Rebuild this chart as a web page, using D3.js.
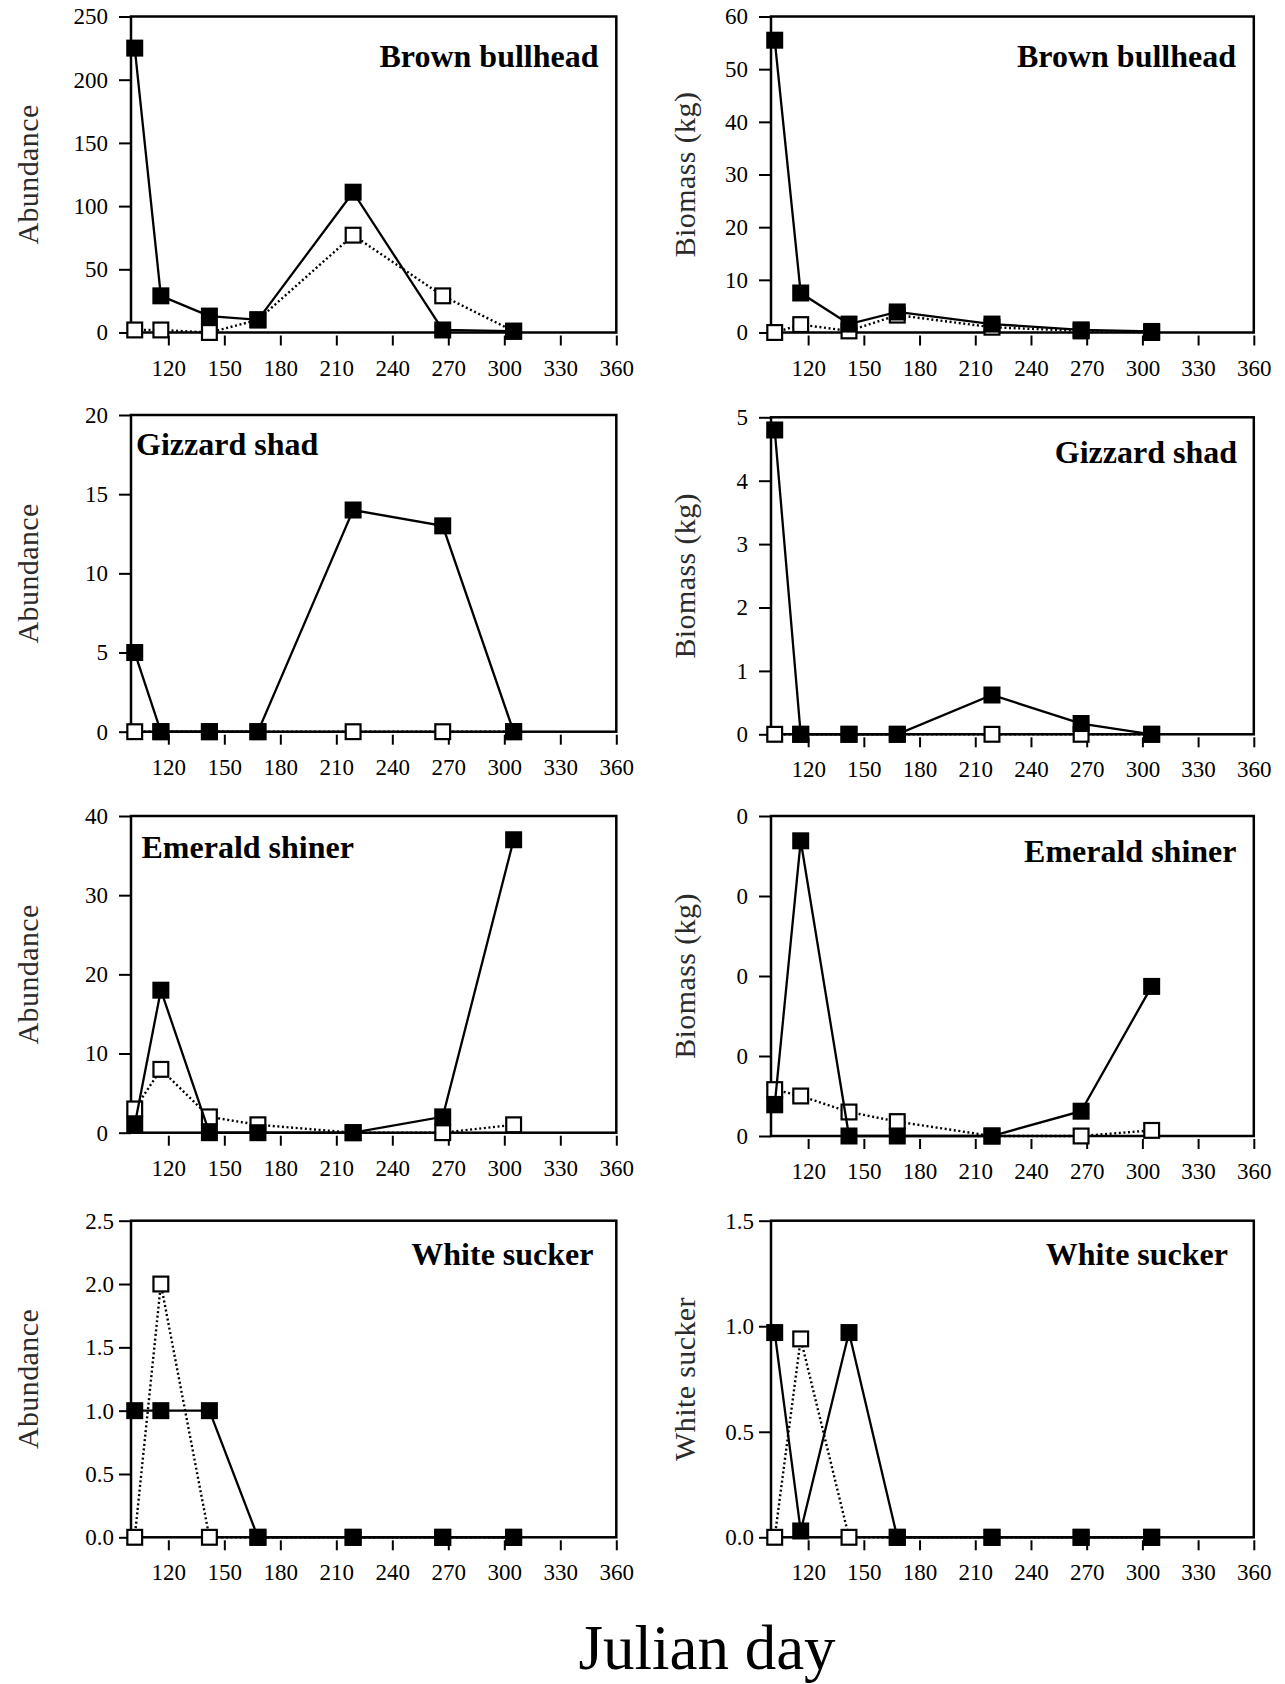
<!DOCTYPE html>
<html>
<head>
<meta charset="utf-8">
<script src="https://cdn.jsdelivr.net/npm/d3@7/dist/d3.min.js"></script>
<style>
  body { margin: 0; background: #fff; }
  svg { display: block; }
</style>
</head>
<body>
<svg id="chart" width="1285" height="1684"></svg>
<script>
// Sampling dates (Julian day) shared by every panel
const days = [102, 116, 142, 168, 219, 267, 305];
const dayTicks = [120, 150, 180, 210, 240, 270, 300, 330, 360];

// Brown bullhead
const bullheadAbundanceFilled = [225, 29, 13, 10, 111, 2, 1];
const bullheadAbundanceOpen   = [2, 2, 0, 10, 77, 29, 1];
const bullheadBiomassFilled   = [55.5, 7.5, 1.6, 3.9, 1.6, 0.5, 0.2];
const bullheadBiomassOpen     = [0, 1.5, 0.3, 3.3, 1.0, 0.3, 0];

// Gizzard shad
const shadAbundanceFilled = [5, 0, 0, 0, 14, 13, 0];
const shadAbundanceOpen   = [0, 0, 0, 0, 0, 0, 0];
const shadBiomassFilled   = [4.8, 0, 0, 0, 0.62, 0.17, 0];
const shadBiomassOpen     = [0, 0, 0, 0, 0, 0, 0];

// Emerald shiner
const shinerAbundanceFilled = [1, 18, 0, 0, 0, 2, 37];
const shinerAbundanceOpen   = [3, 8, 2, 1, 0, 0, 1];
const shinerBiomassFilled   = [0.039, 0.369, 0, 0, 0, 0.031, 0.187];
const shinerBiomassOpen     = [0.058, 0.050, 0.030, 0.018, 0, 0, 0.007];

// White sucker
const suckerAbundanceFilled = [1, 1, 1, 0, 0, 0, 0];
const suckerAbundanceOpen   = [0, 2, 0, 0, 0, 0, 0];
const suckerBiomassFilled   = [0.97, 0.03, 0.97, 0, 0, 0, 0];
const suckerBiomassOpen     = [0, 0.94, 0, 0, 0, 0, 0];

// Y tick values and axis titles
const bullheadAbundanceTicks = [0, 50, 100, 150, 200, 250];
const bullheadBiomassTicks   = [0, 10, 20, 30, 40, 50, 60];
const shadAbundanceTicks     = [0, 5, 10, 15, 20];
const shadBiomassTicks       = [0, 1, 2, 3, 4, 5];
const shinerAbundanceTicks   = [0, 10, 20, 30, 40];
const shinerBiomassTicks     = [0, 0.1, 0.2, 0.3, 0.4];
const suckerAbundanceTicks   = [0, 0.5, 1.0, 1.5, 2.0, 2.5];
const suckerBiomassTicks     = [0, 0.5, 1.0, 1.5];

const speciesNames = ["Brown bullhead", "Gizzard shad", "Emerald shiner", "White sucker"];
const yTitles = ["Abundance", "Biomass (kg)", "Abundance", "Biomass (kg)",
                 "Abundance", "Biomass (kg)", "Abundance", "White sucker"];

// Panel table assembled from the arrays above
const panelData = [
  { name: speciesNames[0], filled: bullheadAbundanceFilled, open: bullheadAbundanceOpen, ticks: bullheadAbundanceTicks, fmt: "d" },
  { name: speciesNames[0], filled: bullheadBiomassFilled,   open: bullheadBiomassOpen,   ticks: bullheadBiomassTicks,   fmt: "d" },
  { name: speciesNames[1], filled: shadAbundanceFilled,     open: shadAbundanceOpen,     ticks: shadAbundanceTicks,     fmt: "d" },
  { name: speciesNames[1], filled: shadBiomassFilled,       open: shadBiomassOpen,       ticks: shadBiomassTicks,       fmt: "d" },
  { name: speciesNames[2], filled: shinerAbundanceFilled,   open: shinerAbundanceOpen,   ticks: shinerAbundanceTicks,   fmt: "d" },
  { name: speciesNames[2], filled: shinerBiomassFilled,     open: shinerBiomassOpen,     ticks: shinerBiomassTicks,     fmt: ".0f" },
  { name: speciesNames[3], filled: suckerAbundanceFilled,   open: suckerAbundanceOpen,   ticks: suckerAbundanceTicks,   fmt: ".1f" },
  { name: speciesNames[3], filled: suckerBiomassFilled,     open: suckerBiomassOpen,     ticks: suckerBiomassTicks,     fmt: ".1f" }
];

// Layout of the 4 x 2 grid
const colLeft  = [131, 771];
const colRight = [616.3, 1253.8];
const panelBox = [
  { top: 16.5,  bottom: 332.5,  pad: 11, tx: 598.5, ty: 66.7,  anchor: "end" },
  { top: 16.5,  bottom: 332.5,  pad: 11, tx: 1236,  ty: 66.7,  anchor: "end" },
  { top: 415,   bottom: 731.7,  pad: 11, tx: 136,   ty: 455,   anchor: "start" },
  { top: 417.3, bottom: 734.3,  pad: 11, tx: 1237,  ty: 462.7, anchor: "end" },
  { top: 816,   bottom: 1132.7, pad: 11, tx: 141.5, ty: 858.3, anchor: "start" },
  { top: 816,   bottom: 1136,   pad: 11, tx: 1236.5,ty: 861.7, anchor: "end" },
  { top: 1220.7,bottom: 1537.3, pad: 5,  tx: 593.5, ty: 1265,  anchor: "end" },
  { top: 1220.7,bottom: 1537.3, pad: 5,  tx: 1228,  ty: 1265,  anchor: "end" }
];
const yTitleX = [38, 695];

const serif = "'Liberation Serif', 'Times New Roman', Times, serif";
const svg = d3.select("#chart");
const markerSize = 17;

panelData.forEach((p, i) => {
  const col = i % 2;
  const box = panelBox[i];
  const x0 = colLeft[col], x1 = colRight[col];
  const x = d3.scaleLinear().domain([100, 360]).range([x0, x1]);
  const yMax = p.ticks[p.ticks.length - 1];
  const y = d3.scaleLinear().domain([0, yMax]).range([box.bottom, box.top]);
  const g = svg.append("g");

  // x axis: ticks hang slightly below the frame
  const xAxis = d3.axisBottom(x).tickValues(dayTicks).tickSize(10).tickFormat(d3.format("d"));
  const gx = g.append("g").attr("transform", `translate(0,${box.bottom + 3})`).call(xAxis);
  gx.select(".domain").remove();
  gx.selectAll(".tick line").attr("stroke", "#000").attr("stroke-width", 2);
  gx.selectAll(".tick text")
    .attr("y", 40).attr("dy", 0)
    .attr("font-family", serif).attr("font-size", 23).attr("fill", "#000");

  // y axis
  const yAxis = d3.axisLeft(y).tickValues(p.ticks).tickSize(12).tickPadding(box.pad)
    .tickFormat(d3.format(p.fmt));
  const gy = g.append("g").attr("transform", `translate(${x0},0)`).call(yAxis);
  gy.select(".domain").remove();
  gy.selectAll(".tick line").attr("stroke", "#000").attr("stroke-width", 2);
  gy.selectAll(".tick text")
    .attr("font-family", serif).attr("font-size", 23).attr("fill", "#000");

  // frame
  g.append("rect")
    .attr("x", x0).attr("y", box.top)
    .attr("width", x1 - x0).attr("height", box.bottom - box.top)
    .attr("fill", "none").attr("stroke", "#000").attr("stroke-width", 2.5);

  // y title
  const cy = (box.top + box.bottom) / 2;
  g.append("text")
    .attr("transform", `translate(${yTitleX[col]},${cy}) rotate(-90)`)
    .attr("text-anchor", "middle")
    .attr("font-family", serif).attr("font-size", 30)
    .attr("letter-spacing", 0.4)
    .attr("fill", "#2b2b2b")
    .text(yTitles[i]);

  // species name
  g.append("text")
    .attr("x", box.tx).attr("y", box.ty)
    .attr("text-anchor", box.anchor)
    .attr("font-family", serif).attr("font-size", 32).attr("font-weight", "bold")
    .attr("fill", "#000")
    .text(p.name);

  const line = d3.line().x(d => x(d.day)).y(d => y(d.v));
  const openPts = days.map((d, k) => ({ day: d, v: p.open[k] }));
  const filledPts = days.map((d, k) => ({ day: d, v: p.filled[k] }));

  // open series: dotted line + hollow squares
  g.append("path").datum(openPts).attr("d", line)
    .attr("fill", "none").attr("stroke", "#000")
    .attr("stroke-width", 2.4).attr("stroke-dasharray", "2,2.6");
  g.selectAll(".open").data(openPts).enter().append("rect")
    .attr("x", d => x(d.day) - (markerSize - 2.2) / 2)
    .attr("y", d => y(d.v) - (markerSize - 2.2) / 2)
    .attr("width", markerSize - 2.2).attr("height", markerSize - 2.2)
    .attr("fill", "#fff").attr("stroke", "#000").attr("stroke-width", 2.2);

  // filled series: solid line + black squares
  g.append("path").datum(filledPts).attr("d", line)
    .attr("fill", "none").attr("stroke", "#000").attr("stroke-width", 2.3);
  g.selectAll(".filled").data(filledPts).enter().append("rect")
    .attr("x", d => x(d.day) - markerSize / 2)
    .attr("y", d => y(d.v) - markerSize / 2)
    .attr("width", markerSize).attr("height", markerSize)
    .attr("fill", "#000");
});

// shared x title
svg.append("text")
  .attr("x", 707).attr("y", 1669)
  .attr("text-anchor", "middle")
  .attr("font-family", serif).attr("font-size", 63)
  .attr("fill", "#000")
  .text("Julian day");
</script>
</body>
</html>
